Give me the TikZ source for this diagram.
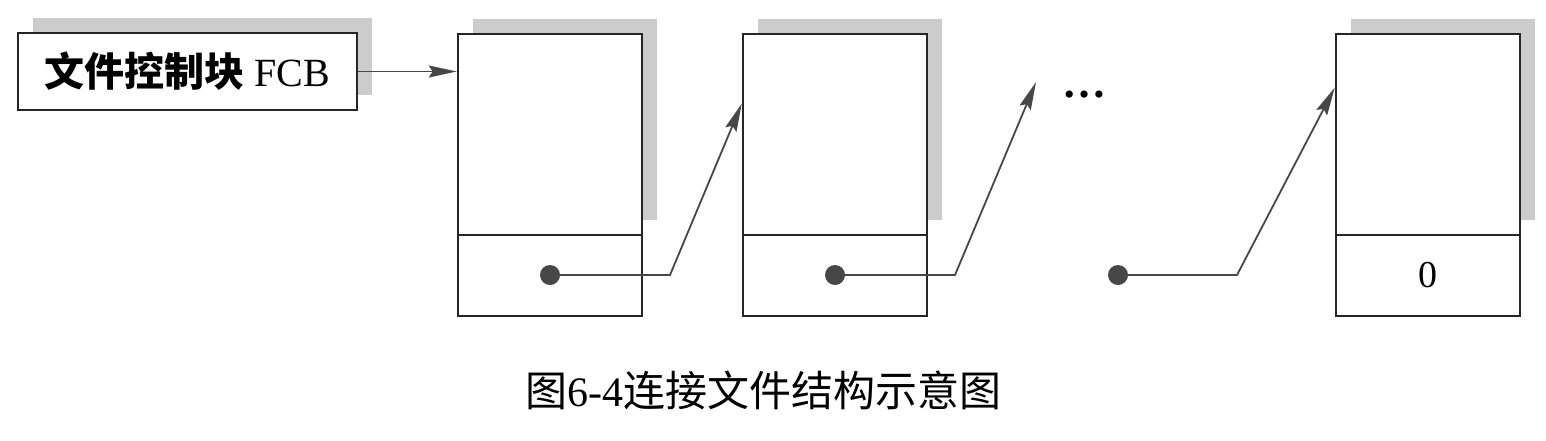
\documentclass[tikz,border=0pt]{standalone}
\usepackage{fontspec}
\setmainfont{Liberation Serif}
\newfontfamily\cjk{Noto Sans CJK SC}
\usetikzlibrary{arrows.meta,shadows,calc}
\begin{document}
\begin{tikzpicture}[x=1pt,y=-1pt,
  box/.style={draw=black!85, line width=2.6pt, fill=white, inner sep=0pt},
  shad/.style={general shadow={fill=black!20, shadow xshift=15pt, shadow yshift=15pt}},
  link/.style={draw=black!72, line width=1.8pt},
  tipped/.style={-{Stealth[length=28pt,width=12pt,inset=4pt]}},
  dot/.style={circle, fill=black!72, minimum size=20pt, inner sep=0pt},
  toph/.style={box, shad, minimum width=184pt, minimum height=201pt},
  both/.style={box, minimum width=184pt, minimum height=81pt}
]
\useasboundingbox (0,0) rectangle (1546,440);

% FCB box
\node[box, shad, minimum width=339pt, minimum height=77pt,
      font=\fontsize{40}{44}\selectfont] (fcb) at (187.5,71.5)
      {{\cjk\bfseries 文件控制块} FCB};

% blocks
\node[toph] (t1) at (550,134.5) {};
\node[both] (u1) at (550,275.5) {};
\node[toph] (t2) at (835,134.5) {};
\node[both] (u2) at (835,275.5) {};
\node[toph] (t3) at (1428,134.5) {};
\node[both, font=\fontsize{38}{40}\selectfont] (u3) at (1428,275.5) {0};

% dots
\node[dot] (d1) at (550,275) {};
\node[dot] (d2) at (835,275) {};
\node[dot] (d3) at (1118,275) {};

% ellipsis
\node[anchor=base, inner sep=0pt, font=\fontsize{44}{46}\selectfont\bfseries] (ell) at (1084,97) {…};

% bend points
\coordinate (k1) at (670,275);
\coordinate (k2) at (955,275);
\coordinate (k3) at (1237,275);
\coordinate (e2) at (1036,82);

% connectors
\draw[link,tipped] (fcb.east) -- (t1.west |- fcb.east);
\draw[link,tipped] (d1) -- (k1) -- ($(t2.north west)+(0,71)$);
\draw[link,tipped] (d2) -- (k2) -- (e2);
\draw[link,tipped] (d3) -- (k3) -- ($(t3.north west)+(0,55)$);

% caption
\node[font=\fontsize{42}{46}\selectfont] (cap) at (763,390)
  {{\cjk 图}6-4{\cjk 连接文件结构示意图}};
\end{tikzpicture}
\end{document}
